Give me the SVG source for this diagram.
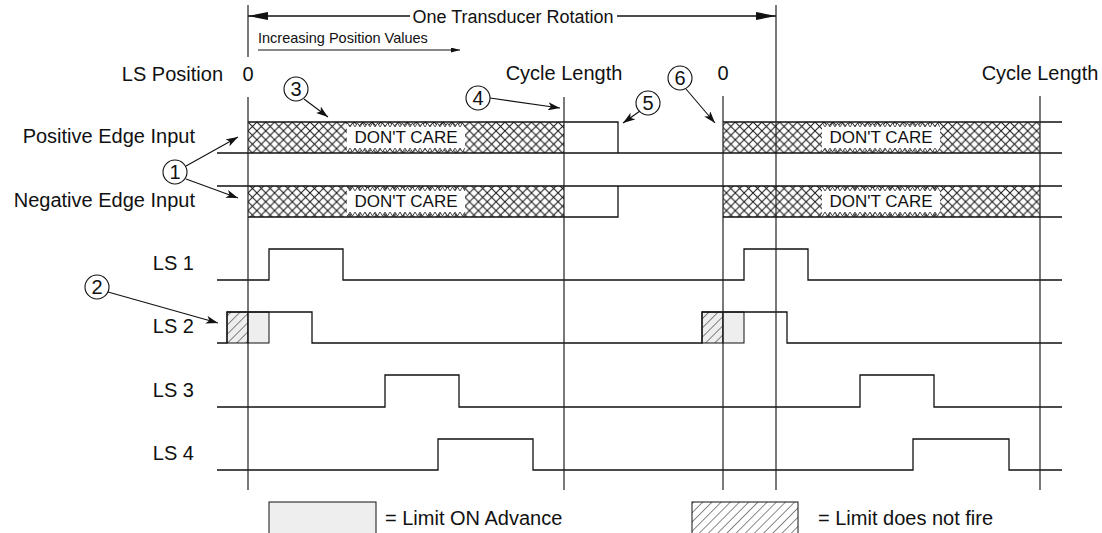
<svg xmlns="http://www.w3.org/2000/svg" width="1102" height="533" viewBox="0 0 1102 533">
<style>
text{font-family:"Liberation Sans",Arial,sans-serif;fill:#111}
.lbl{font-size:20px}
.dc{font-size:17px}
.grid{stroke:#222;stroke-width:1.2;fill:none}
.sig{stroke:#111;stroke-width:1.3;fill:none}
.call{stroke:#111;stroke-width:1.1;fill:none;marker-end:url(#ah)}
.circ{fill:none;stroke:#111;stroke-width:1.1}
</style>
<defs>
<pattern id="xh" patternUnits="userSpaceOnUse" x="248" y="122" width="8.86" height="8.86">
<rect width="8.86" height="8.86" fill="#fff"/>
<path d="M0,0 L8.86,8.86 M8.86,0 L0,8.86" stroke="#111" stroke-width="1"/>
</pattern>
<pattern id="zt" patternUnits="userSpaceOnUse" x="0" y="123" width="5" height="4">
<path d="M0,4 L2.5,0 L5,4 Z" fill="#fff"/>
<path d="M0,4 L2.5,0 L5,4" fill="none" stroke="#222" stroke-width="0.8"/>
</pattern>
<pattern id="zb" patternUnits="userSpaceOnUse" x="0" y="148" width="5" height="4">
<path d="M0,0 L2.5,4 L5,0 Z" fill="#fff"/>
<path d="M0,0 L2.5,4 L5,0" fill="none" stroke="#222" stroke-width="0.8"/>
</pattern>
<pattern id="zt2" patternUnits="userSpaceOnUse" x="0" y="187" width="5" height="4">
<path d="M0,4 L2.5,0 L5,4 Z" fill="#fff"/>
<path d="M0,4 L2.5,0 L5,4" fill="none" stroke="#222" stroke-width="0.8"/>
</pattern>
<pattern id="zb2" patternUnits="userSpaceOnUse" x="0" y="212" width="5" height="4">
<path d="M0,0 L2.5,4 L5,0 Z" fill="#fff"/>
<path d="M0,0 L2.5,4 L5,0" fill="none" stroke="#222" stroke-width="0.8"/>
</pattern>
<pattern id="dh" patternUnits="userSpaceOnUse" x="0" y="0" width="6.5" height="6.5" patternTransform="rotate(45)">
<path d="M0,0 L0,6.5" stroke="#111" stroke-width="1"/>
</pattern>
<marker id="ah" viewBox="0 0 12 8" refX="12" refY="4" markerWidth="12" markerHeight="8" markerUnits="userSpaceOnUse" orient="auto">
<path d="M0,0 L12,4 L0,8 L3,4 Z" fill="#111"/>
</marker>
<marker id="big" viewBox="0 0 20 8" refX="20" refY="4" markerWidth="20" markerHeight="8" markerUnits="userSpaceOnUse" orient="auto">
<path d="M0,0 L20,4 L0,8 Z" fill="#111"/>
</marker>
<marker id="sm" viewBox="0 0 9 5" refX="9" refY="2.5" markerWidth="9" markerHeight="5" markerUnits="userSpaceOnUse" orient="auto">
<path d="M0,0 L9,2.5 L0,5 Z" fill="#111"/>
</marker>
</defs>
<rect width="1102" height="533" fill="#fff"/>

<g id="header">
<line x1="410" y1="16" x2="248" y2="16" class="sig" marker-end="url(#big)"/>
<text x="513" y="23" text-anchor="middle" style="font-size:18px">One Transducer Rotation</text>
<line x1="617" y1="16" x2="776" y2="16" class="sig" marker-end="url(#big)"/>
<text x="258" y="43" style="font-size:14.5px">Increasing Position Values</text>
<line x1="258" y1="50" x2="460" y2="50" stroke="#111" stroke-width="1" marker-end="url(#sm)"/>
<text x="223" y="81" class="lbl" text-anchor="end">LS Position</text>
<text x="248" y="81" class="lbl" text-anchor="middle">0</text>
<text x="564" y="80" class="lbl" text-anchor="middle">Cycle Length</text>
<text x="723" y="80" class="lbl" text-anchor="middle">0</text>
<text x="1040" y="80" class="lbl" text-anchor="middle">Cycle Length</text>
</g>

<g id="positive-edge-input">
<text x="195" y="143" class="lbl" text-anchor="end">Positive Edge Input</text>
<rect x="248" y="122" width="316" height="31" fill="url(#xh)"/>
<rect x="723" y="122" width="317" height="31" fill="url(#xh)"/>
<rect x="347" y="126.8" width="118" height="21.4" fill="#fff"/>
<rect x="347" y="123" width="118" height="4" fill="url(#zt)"/>
<rect x="347" y="148" width="118" height="4" fill="url(#zb)"/>
<rect x="822" y="126.8" width="118" height="21.4" fill="#fff"/>
<rect x="822" y="123" width="118" height="4" fill="url(#zt)"/>
<rect x="822" y="148" width="118" height="4" fill="url(#zb)"/>
<text x="406" y="143" class="dc" text-anchor="middle">DON'T CARE</text>
<text x="881" y="143" class="dc" text-anchor="middle">DON'T CARE</text>
<path class="sig" d="M217,153 H1062 M248,122 H618 V153 M723,122 H1062"/>
</g>

<g id="negative-edge-input">
<text x="195" y="207" class="lbl" text-anchor="end">Negative Edge Input</text>
<rect x="248" y="186" width="316" height="31" fill="url(#xh)"/>
<rect x="723" y="186" width="317" height="31" fill="url(#xh)"/>
<rect x="347" y="190.8" width="118" height="21.4" fill="#fff"/>
<rect x="347" y="187" width="118" height="4" fill="url(#zt2)"/>
<rect x="347" y="212" width="118" height="4" fill="url(#zb2)"/>
<rect x="822" y="190.8" width="118" height="21.4" fill="#fff"/>
<rect x="822" y="187" width="118" height="4" fill="url(#zt2)"/>
<rect x="822" y="212" width="118" height="4" fill="url(#zb2)"/>
<text x="406" y="207" class="dc" text-anchor="middle">DON'T CARE</text>
<text x="881" y="207" class="dc" text-anchor="middle">DON'T CARE</text>
<path class="sig" d="M217,186 H1062 M248,217 H618 V186 M723,217 H1062"/>
</g>

<g id="ls1">
<text x="194" y="270" class="lbl" text-anchor="end">LS 1</text>
<path class="sig" d="M217,280 H269 V249 H343 V280 H744 V249 H808 V280 H1062"/>
</g>

<g id="ls2">
<text x="194" y="333" class="lbl" text-anchor="end">LS 2</text>
<rect x="227" y="312" width="21" height="31" fill="#eee"/>
<rect x="227" y="312" width="21" height="31" fill="url(#dh)" stroke="#111" stroke-width="1"/>
<rect x="248" y="312" width="21" height="31" fill="#eee" stroke="#111" stroke-width="1"/>
<rect x="702" y="312" width="21" height="31" fill="#eee"/>
<rect x="702" y="312" width="21" height="31" fill="url(#dh)" stroke="#111" stroke-width="1"/>
<rect x="723" y="312" width="21" height="31" fill="#eee" stroke="#111" stroke-width="1"/>
<path class="sig" d="M217,343 H227 V312 H312 V343 H702 V312 H787 V343 H1062"/>
</g>

<g id="ls3">
<text x="194" y="397" class="lbl" text-anchor="end">LS 3</text>
<path class="sig" d="M217,407 H385 V375 H459 V407 H860 V375 H934 V407 H1062"/>
</g>

<g id="ls4">
<text x="194" y="460" class="lbl" text-anchor="end">LS 4</text>
<path class="sig" d="M217,470 H438 V439 H533 V470 H913 V439 H1009 V470 H1062"/>
</g>

<g id="gridlines">
<path class="grid" d="M248,5 V57 M248,97 V490 M564,97 V490 M723,96 V490 M776,5 V490 M1040,96 V490"/>
</g>

<g id="callouts">
<circle class="circ" cx="175" cy="172" r="12"/><text x="175" y="179" class="lbl" text-anchor="middle">1</text>
<circle class="circ" cx="97" cy="287" r="12"/><text x="97" y="294" class="lbl" text-anchor="middle">2</text>
<circle class="circ" cx="296" cy="89" r="12"/><text x="296" y="96" class="lbl" text-anchor="middle">3</text>
<circle class="circ" cx="478" cy="98" r="12"/><text x="478" y="105" class="lbl" text-anchor="middle">4</text>
<circle class="circ" cx="648" cy="103" r="12"/><text x="648" y="110" class="lbl" text-anchor="middle">5</text>
<circle class="circ" cx="680" cy="78" r="12"/><text x="680" y="85" class="lbl" text-anchor="middle">6</text>
</g>

<g id="connectors">
<line class="call" x1="186" y1="166" x2="238" y2="137"/>
<line class="call" x1="186" y1="179" x2="238" y2="198"/>
<line class="call" x1="108" y1="292" x2="218" y2="323"/>
<line class="call" x1="304" y1="99" x2="328" y2="117"/>
<line class="call" x1="490" y1="98" x2="560" y2="108"/>
<line class="call" x1="640" y1="111" x2="623" y2="123"/>
<line class="call" x1="686" y1="89" x2="715" y2="123"/>
</g>

<g id="legend">
<rect x="269" y="502" width="107" height="40" fill="#eee" stroke="#111" stroke-width="1"/>
<text x="385" y="525" class="lbl">= Limit ON Advance</text>
<rect x="692" y="502" width="106" height="40" fill="#fff"/>
<rect x="692" y="502" width="106" height="40" fill="url(#dh)" stroke="#111" stroke-width="1"/>
<text x="818" y="525" class="lbl">= Limit does not fire</text>
</g>
</svg>
